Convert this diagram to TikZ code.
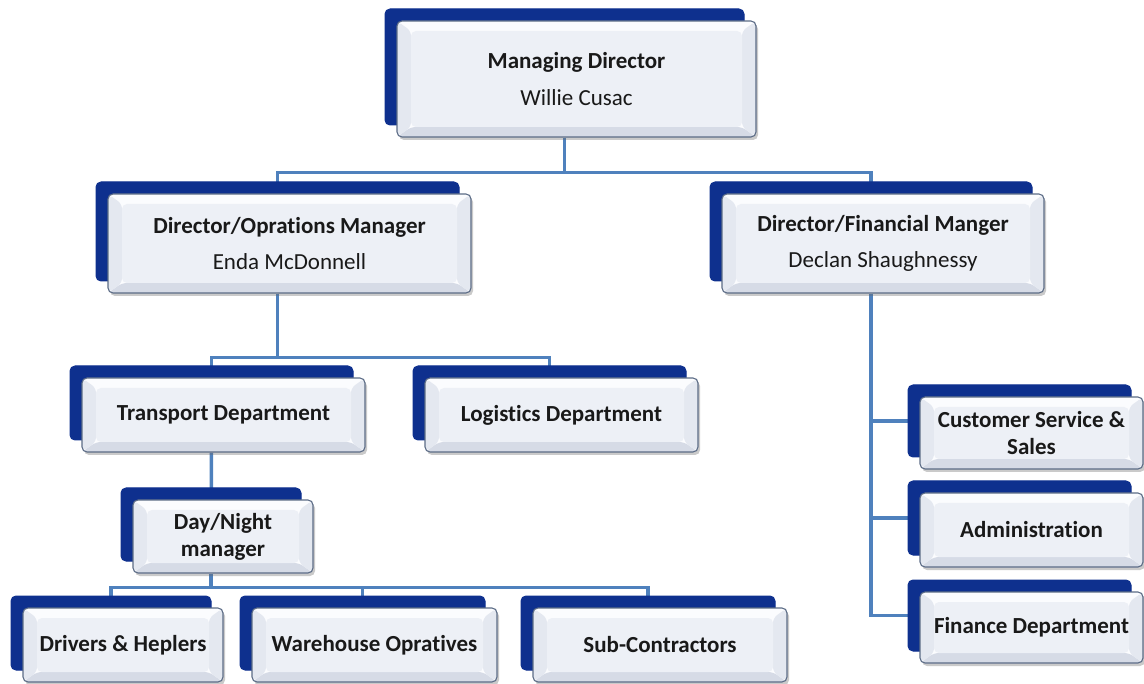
\documentclass[tikz,border=0pt]{standalone}
\usepackage{fontspec}
\setmainfont{Carlito}[Ligatures={NoCommon}]
\usetikzlibrary{shadows,backgrounds}

\definecolor{backblue}{RGB}{14,48,142}
\definecolor{linkblue}{RGB}{79,129,189}
\definecolor{frameedge}{RGB}{92,108,134}
\definecolor{facetop}{RGB}{251,252,254}
\definecolor{faceside}{RGB}{228,232,240}
\definecolor{facebottom}{RGB}{214,219,230}
\definecolor{facecenter}{RGB}{237,240,246}
\definecolor{inktext}{RGB}{25,25,25}

\tikzset{
  orgbox/.style={
    draw=frameedge, line width=1.1pt, rounded corners=5pt, fill=facetop,
    inner sep=0pt, align=center, text=inktext,
    font=\fontsize{23}{27}\selectfont\bfseries,
    copy shadow={shadow xshift=-12pt, shadow yshift=12pt, fill=backblue, draw=backblue, line width=1pt},
    drop shadow={shadow xshift=2pt, shadow yshift=-3pt, opacity=0.35, fill=black!60},
    path picture={
      % bevelled face: darker lower band, side bands, flat centre
      \fill[facebottom] (path picture bounding box.south west)
        -- ([xshift=14pt,yshift=10pt]path picture bounding box.south west)
        -- ([xshift=-14pt,yshift=10pt]path picture bounding box.south east)
        -- (path picture bounding box.south east) -- cycle;
      \fill[faceside] (path picture bounding box.south west)
        -- ([xshift=14pt,yshift=10pt]path picture bounding box.south west)
        -- ([xshift=14pt,yshift=-10pt]path picture bounding box.north west)
        -- (path picture bounding box.north west) -- cycle;
      \fill[faceside] (path picture bounding box.south east)
        -- ([xshift=-14pt,yshift=10pt]path picture bounding box.south east)
        -- ([xshift=-14pt,yshift=-10pt]path picture bounding box.north east)
        -- (path picture bounding box.north east) -- cycle;
      \fill[facecenter] ([xshift=14pt,yshift=-10pt]path picture bounding box.north west)
        rectangle ([xshift=-14pt,yshift=10pt]path picture bounding box.south east);
    }
  },
  conn/.style={draw=linkblue, line width=3.5pt},
}

\begin{document}
\begin{tikzpicture}[x=1pt, y=-1pt]
\useasboundingbox (0,0) rectangle (1144,684);

% top level
\node[orgbox, minimum width=359pt, minimum height=116pt] (md) at (576.5,79)
  {Managing Director\\[10pt]\mdseries Willie Cusac};

% directors
\node[orgbox, minimum width=363pt, minimum height=99pt] (ops) at (289.5,243.5)
  {Director/Oprations Manager\\[9pt]\mdseries Enda McDonnell};
\node[orgbox, minimum width=322pt, minimum height=99pt] (fin) at (883,243.5)
  {Director/Financial Manger\\[9pt]\mdseries Declan Shaughnessy};

% operations branch
\node[orgbox, minimum width=283pt, minimum height=74pt] (trans) at (223.5,415) {Transport Department};
\node[orgbox, minimum width=273pt, minimum height=74pt] (logi) at (561.5,415) {Logistics Department};
\node[orgbox, minimum width=180pt, minimum height=73pt] (dn) at (223,536.5) {Day/Night\\manager};
\node[orgbox, minimum width=200pt, minimum height=74pt] (drv) at (123,645) {Drivers \& Heplers};
\node[orgbox, minimum width=245pt, minimum height=74pt] (wh) at (374.5,645) {Warehouse Opratives};
\node[orgbox, minimum width=254pt, minimum height=74pt] (sub) at (660,645) {Sub-Contractors};

% finance branch
\node[orgbox, minimum width=223pt, minimum height=72pt] (cust) at (1031.5,433) {Customer Service \&\\Sales};
\node[orgbox, minimum width=223pt, minimum height=74pt] (adm) at (1031.5,530) {Administration};
\node[orgbox, minimum width=223pt, minimum height=71pt] (finance) at (1031.5,627.5) {Finance Department};

% connectors run behind the boxes, into the centre of each back panel
\begin{scope}[on background layer]
  \draw[conn] ([xshift=-12pt]md.south) -- ++(0,35) -| ([xshift=-12pt]ops.center);
  \draw[conn] ([xshift=-12pt]md.south) -- ++(0,35) -| ([xshift=-12pt]fin.center);
  \draw[conn] ([xshift=-12pt]ops.south) -- ++(0,64) -| ([xshift=-12pt]trans.center);
  \draw[conn] ([xshift=-12pt]ops.south) -- ++(0,64) -| ([xshift=-12pt]logi.center);
  \draw[conn] ([xshift=-12pt]trans.south) -- ([xshift=-12pt]dn.center);
  \draw[conn] ([xshift=-12pt]dn.south) -- ++(0,14) -| ([xshift=-12pt]drv.center);
  \draw[conn] ([xshift=-12pt]dn.south) -- ++(0,14) -| ([xshift=-12pt]wh.center);
  \draw[conn] ([xshift=-12pt]dn.south) -- ++(0,14) -| ([xshift=-12pt]sub.center);
  \draw[conn] ([xshift=-12pt]fin.south) |- ([yshift=12pt]cust.center);
  \draw[conn] ([xshift=-12pt]fin.south) |- ([yshift=12pt]adm.center);
  \draw[conn] ([xshift=-12pt]fin.south) |- ([yshift=12pt]finance.center);
\end{scope}
\end{tikzpicture}
\end{document}
